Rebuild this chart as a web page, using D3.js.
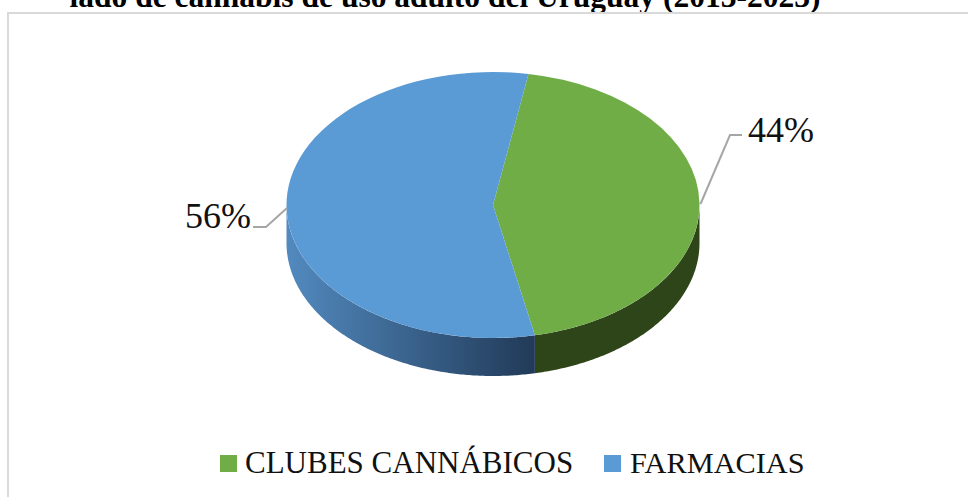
<!DOCTYPE html>
<html><head><meta charset="utf-8">
<script src="https://cdn.jsdelivr.net/npm/d3@7/dist/d3.min.js"></script>
<style>html,body{margin:0;padding:0;background:#fff}svg{display:block}text{font-family:"Liberation Serif",serif}</style>
</head><body><svg id="c" width="968" height="497"></svg>
<script>
const titleText = "lado de cannabis de uso adulto del Uruguay (2013-2023)";
const categories = ["CLUBES CANNÁBICOS", "FARMACIAS"];
const values = [44, 56];
const colors = ["#70ad47", "#5b9bd5"];
const labels = ["44%", "56%"];

const svg = d3.select("#c");
const cx = 493, cy = 205, rx = 206.5, ry = 133, depth = 38;
const toRad = Math.PI / 180;
const startDeg = 9.9;
const arcs = d3.pie().sort(null).value(d => d).startAngle(startDeg * toRad).endAngle((startDeg + 360) * toRad)(values);
const px = a => cx + rx * Math.sin(a), py = a => cy - ry * Math.cos(a);

const defs = svg.append("defs");
const g = defs.append("linearGradient").attr("id", "blueSide").attr("gradientUnits", "userSpaceOnUse")
  .attr("x1", cx - rx).attr("x2", px(arcs[0].endAngle)).attr("y1", 0).attr("y2", 0);
g.append("stop").attr("offset", 0).attr("stop-color", "#528abf");
g.append("stop").attr("offset", 1).attr("stop-color", "#213a58");

svg.append("text").attr("x", 445).attr("y", 7).attr("text-anchor", "middle")
  .attr("font-size", 31.5).attr("font-weight", "bold").attr("fill", "#000").text(titleText);
svg.append("rect").attr("x", 8).attr("y", 13).attr("width", 990).attr("height", 520)
  .attr("fill", "none").attr("stroke", "#d9d9d9").attr("stroke-width", 2);

const frontStart = Math.PI / 2, frontEnd = 3 * Math.PI / 2;
const sideFills = ["#2d4519", "url(#blueSide)"];
arcs.forEach((d, i) => {
  const a0 = Math.max(d.startAngle, frontStart), a1 = Math.min(d.endAngle, frontEnd);
  const angles = d3.range(a0, a1, 0.01).concat([a1]);
  const top = angles.map(a => [px(a), py(a)]);
  const bot = angles.slice().reverse().map(a => [px(a), py(a) + depth]);
  svg.append("path").attr("d", d3.line()(top.concat(bot)) + "Z").attr("fill", sideFills[i]);
});

const arcGen = d3.arc().innerRadius(0).outerRadius(rx);
const topG = svg.append("g").attr("transform", `translate(${cx},${cy}) scale(1,${ry / rx})`);
topG.selectAll("path").data(arcs).join("path").attr("d", arcGen).attr("fill", (d, i) => colors[i]);

const leaders = [
  { pts: [[700.5, 204], [730, 135], [742, 135]], tx: 748, ty: 142 },
  { pts: [[287, 208], [266, 227], [253, 227]], tx: 185, ty: 228 }
];
leaders.forEach((l, i) => {
  svg.append("path").attr("d", d3.line()(l.pts)).attr("fill", "none").attr("stroke", "#a6a6a6").attr("stroke-width", 2);
  svg.append("text").attr("x", l.tx).attr("y", l.ty).attr("font-size", 36).attr("fill", "#111").text(labels[i]);
});

const legendX = [220, 604], legendTextX = [245, 630];
categories.forEach((c, i) => {
  svg.append("rect").attr("x", legendX[i]).attr("y", 455).attr("width", 17).attr("height", 17).attr("fill", colors[i]);
  svg.append("text").attr("x", legendTextX[i]).attr("y", 473).attr("font-size", i ? 30.3 : 31).attr("fill", "#111").text(c);
});
</script></body></html>
